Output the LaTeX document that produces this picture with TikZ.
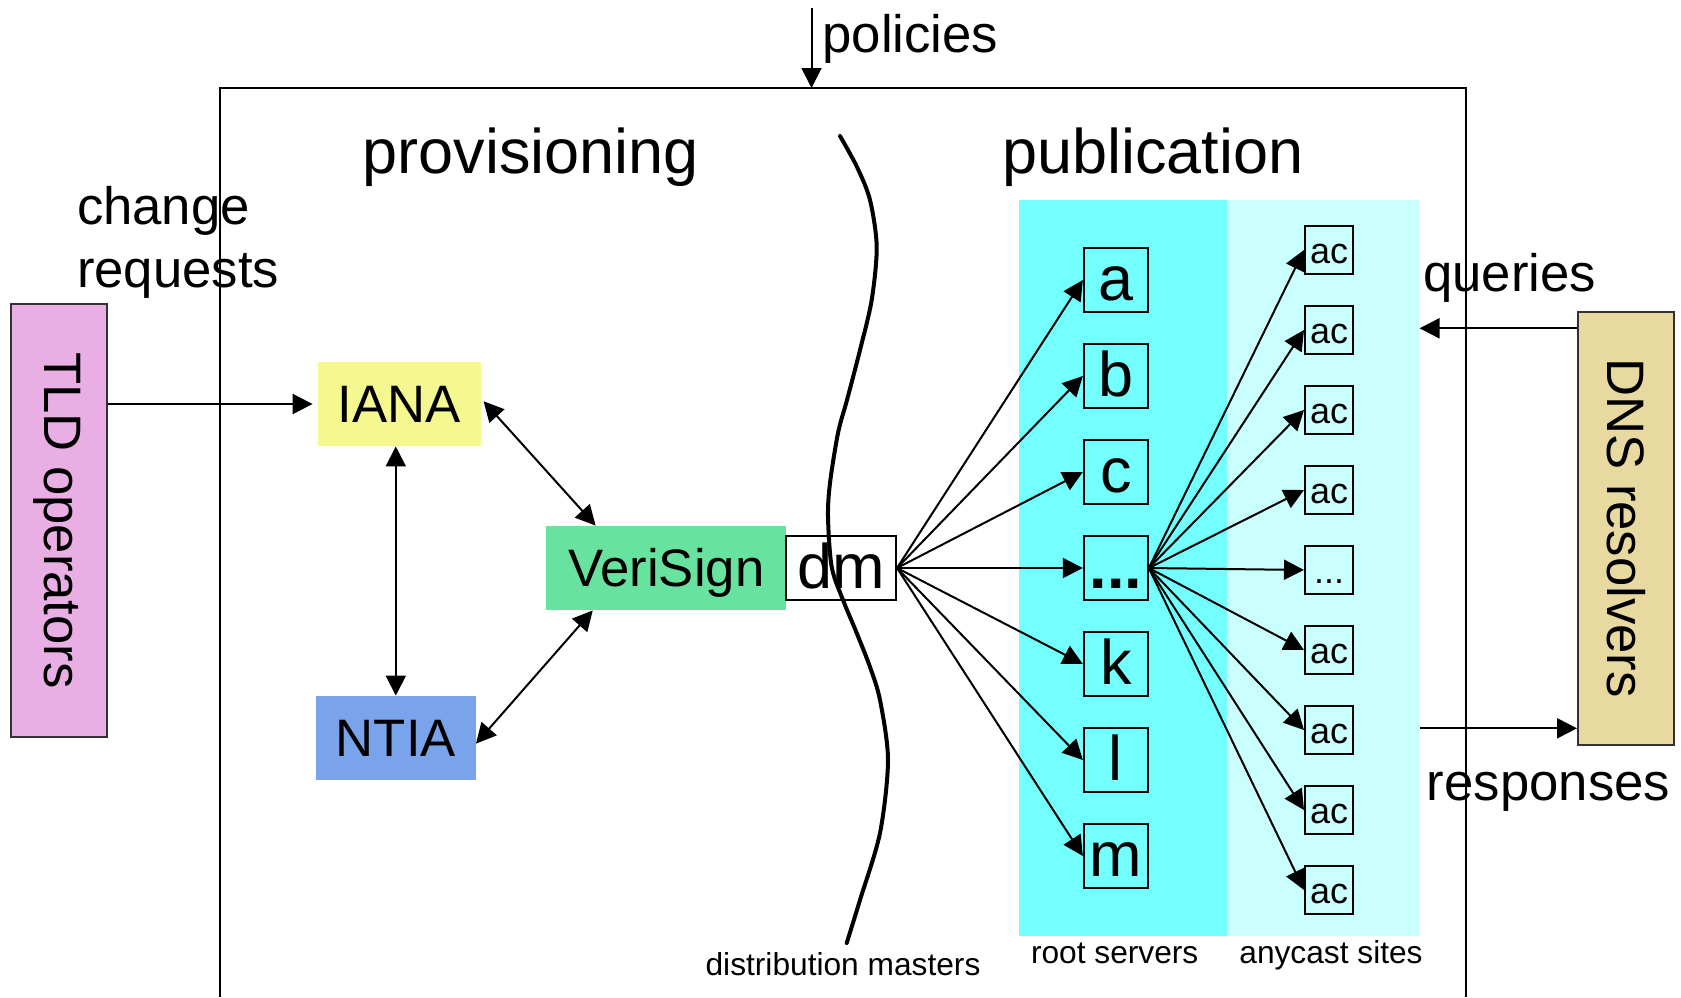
\documentclass[tikz,border=0pt]{standalone}
\usepackage{fontspec}
\setmainfont{Liberation Sans}
\usetikzlibrary{arrows.meta}
\definecolor{tldpink}{HTML}{E9AEE4}
\definecolor{ianayellow}{HTML}{F5F78F}
\definecolor{vsgreen}{HTML}{67E39F}
\definecolor{ntiablue}{HTML}{79A3EA}
\definecolor{dnstan}{HTML}{E8D9A1}
\definecolor{rootcyan}{HTML}{74FFFF}
\definecolor{anycyan}{HTML}{C9FFFD}
\newcommand{\bigtxt}{\fontsize{31.5pt}{38pt}\selectfont}
\newcommand{\medtxt}{\fontsize{26.35pt}{31.5pt}\selectfont}
\newcommand{\smalltxt}{\fontsize{15.85pt}{19pt}\selectfont}
\newcommand{\actxt}{\fontsize{18pt}{21pt}\selectfont}
\tikzset{
  arr/.style={-{Triangle[length=10pt,width=10pt]},line width=1pt},
  darr/.style={{Triangle[length=10pt,width=10pt]}-{Triangle[length=10pt,width=10pt]},line width=1pt},
  org/.style={inner sep=0pt,font=\medtxt,text height=18.9pt,text depth=0pt},
  side/.style={org,draw=black!80,line width=1pt,rotate=-90,minimum width=216.5pt,minimum height=48pt},
  srv/.style={draw,line width=1pt,inner sep=0pt,minimum width=32pt,minimum height=32pt,font=\bigtxt,text height=26.4pt,text depth=5.6pt},
  site/.style={draw,line width=1pt,inner sep=0pt,minimum width=24pt,minimum height=24.3pt,font=\actxt,text height=18.9pt,text depth=5.4pt},
  panel/.style={inner sep=0pt,minimum height=367.85pt},
  lbl/.style={inner sep=0pt,anchor=base},
}
\begin{document}
\begin{tikzpicture}[x=0.5pt,y=-0.5pt]
\useasboundingbox (0,0) rectangle (1681,997);
% publication panels
\node[panel,fill=rootcyan,minimum width=103.85pt] (rootpanel) at (1122.85,567.85) {};
\node[panel,fill=anycyan,minimum width=95.9pt] (anypanel) at (1322.6,567.85) {};
\draw[line width=1pt] (220,997) -- (220,88) -- (1466,88) -- (1466,997); % open frame
\coordinate (polsrc) at (811.5,8);
\coordinate (poltip) at (811.5,88);
\draw[arr] (polsrc) -- (poltip);
\node[lbl,anchor=base west,font=\medtxt] (pol) at (822,52) {policies};
\node[lbl,font=\bigtxt] (prov) at (531,173) {provisioning};
\node[lbl,font=\bigtxt] (publ) at (1153,173) {publication};
\node[lbl,anchor=north west,align=left,font=\medtxt] (chg) at (76.6,185.5) {change\\requests};
% organisations (rotated: north is the right side, south the left side)
\node[side,fill=tldpink,text depth=4pt] (TLD) at (59,520.5) {TLD operators};
\node[side,fill=dnstan] (DNS) at (1626,528) {DNS resolvers};
\node[org,fill=ianayellow,minimum width=81.25pt,minimum height=42pt] (IANA) at (399.25,404) {IANA};
\node[org,fill=ntiablue,minimum width=79.8pt,minimum height=42pt] (NTIA) at (395.8,738) {NTIA};
\node[org,fill=vsgreen,minimum width=120pt,minimum height=42pt] (VeriSign) at (666.2,568) {VeriSign};
\node[srv,fill=white,minimum width=55pt] (dm) at (841,568) {dm};
\draw[arr,shorten >=2.5pt] (TLD.north |- IANA.west) -- (IANA.west);
\draw[darr] (IANA.south -| NTIA.north) -- (NTIA.north);
\draw[darr,shorten <=2pt] (IANA.4) -- (VeriSign.149);
\draw[darr] (NTIA.-4) -- (VeriSign.210);
% distribution masters boundary
\draw[line width=2pt,line cap=round] plot[smooth] coordinates {(840,136) (857,167) (870,200) (876.7,246.7) (871.7,300) (860,350) (847,400) (838,433) (830,483) (828,517) (831.7,567) (843,600) (856.7,633) (870,667) (880,700) (888,760) (880,833) (860,900) (846.7,943)};
\node[lbl,font=\smalltxt] (dmlbl) at (843,975) {distribution masters};
% root servers
\foreach \l/\i in {a/1,b/2,c/3,k/5,l/6,m/7}
  \node[srv] (r\i) at (1115.85,{184+96*\i}) {\l};
\node[srv,font=\bigtxt\bfseries] (r4) at (1115.85,568) {...};
% anycast sites
\foreach \i in {1,2,3,4,6,7,8,9}
  \node[site] (ac\i) at (1329,{170+80*\i}) {ac};
\node[site] (ac5) at (1329,570) {...};
\foreach \i in {1,...,7}
  \draw[arr] (dm.east) -- (r\i.west);
\foreach \i in {1,...,9}
  \draw[arr] (r4.east) -- (ac\i.west);
\node[lbl,font=\smalltxt] (rootlbl) at (1114.7,963) {root servers};
\node[lbl,font=\smalltxt] (anylbl) at (1331,963) {anycast sites};
% resolver traffic
\coordinate (qry) at (1419.5,328.3);
\coordinate (rsp) at (1419.5,728.3);
\draw[arr] (DNS.south |- qry) -- (qry);
\draw[arr] (rsp) -- (DNS.south |- rsp);
\node[lbl,anchor=base west,font=\medtxt] (qlbl) at (1422.8,291.7) {queries};
\node[lbl,anchor=base west,font=\medtxt] (rlbl) at (1426.5,800) {responses};
\end{tikzpicture}
\end{document}
